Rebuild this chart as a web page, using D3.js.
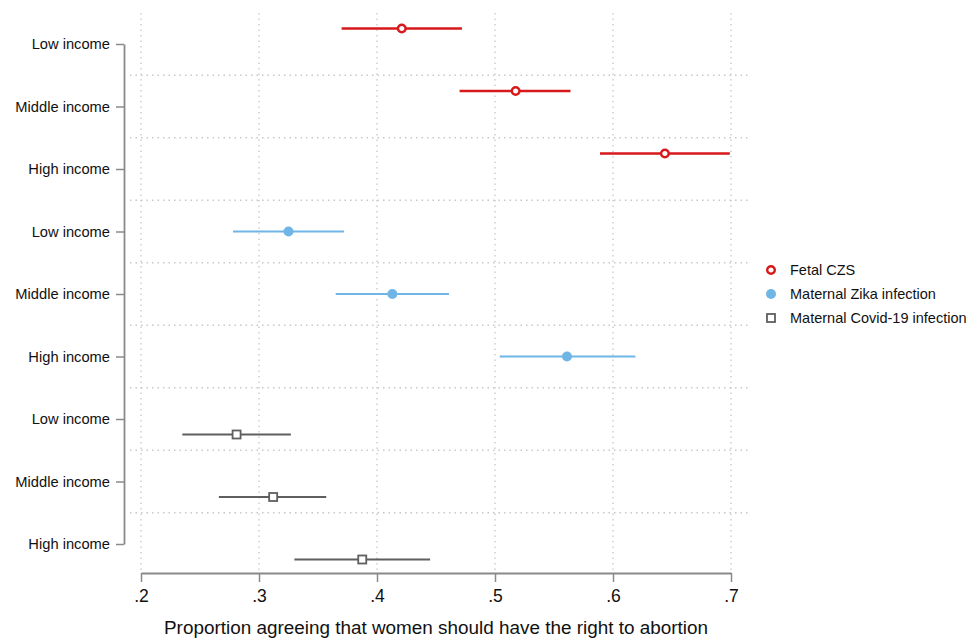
<!DOCTYPE html>
<html>
<head>
<meta charset="utf-8">
<script src="https://cdn.jsdelivr.net/npm/d3@7"></script>
<style>
  body { margin: 0; background: #fff; }
  svg { display: block; font-family: "Liberation Sans", Arial, sans-serif; }
</style>
</head>
<body>
<script>

// income groups, repeated for each outcome
let categories = ["Low income", "Middle income", "High income"]

// series names (legend order)
let seriesNames = ["Fetal CZS", "Maternal Zika infection", "Maternal Covid-19 infection"]

// point estimates and 95% CI per series, in category order
let czsEst = [0.421, 0.5175, 0.644]
let czsLow = [0.370, 0.470, 0.589]
let czsHigh = [0.472, 0.564, 0.699]

let zikaEst = [0.325, 0.413, 0.561]
let zikaLow = [0.278, 0.365, 0.504]
let zikaHigh = [0.372, 0.461, 0.619]

let covidEst = [0.281, 0.312, 0.3875]
let covidLow = [0.235, 0.266, 0.330]
let covidHigh = [0.327, 0.357, 0.445]

let xTicks = [0.2, 0.3, 0.4, 0.5, 0.6, 0.7]

let width = 979
let height = 638

let series = [
    { name: seriesNames[0], est: czsEst, lo: czsLow, hi: czsHigh, color: "#d7191c", marker: "ocircle", offset: -15.5, lw: 2.6 },
    { name: seriesNames[1], est: zikaEst, lo: zikaLow, hi: zikaHigh, color: "#6fb5e6", marker: "circle", offset: 0, lw: 2.2 },
    { name: seriesNames[2], est: covidEst, lo: covidLow, hi: covidHigh, color: "#5f5f5f", marker: "square", offset: 15.5, lw: 2 }
]

// rows: one per series x category, all with a tick label
let rows = []
series.forEach((s, si) => {
    categories.forEach((c, ci) => {
        rows.push({ label: c, idx: si * categories.length + ci })
    })
})

let xScale = d3.scaleLinear()
    .domain([0.2, 0.7])
    .range([141, 731])

let yScale = d3.scaleLinear()
    .domain([0, rows.length - 1])
    .range([44, 544])

let svg = d3.select("body")
    .append("svg")
    .attr("width", width)
    .attr("height", height)

// vertical grid
svg.append("g")
    .selectAll("line")
    .data(xTicks)
    .enter()
    .append("line")
    .attr("x1", d => xScale(d))
    .attr("x2", d => xScale(d))
    .attr("y1", 13)
    .attr("y2", 573)
    .attr("stroke", "#c8c8c8")
    .attr("stroke-width", 1.3)
    .attr("stroke-dasharray", "1.5,4")

// horizontal grid between rows
svg.append("g")
    .selectAll("line")
    .data(d3.range(rows.length - 1))
    .enter()
    .append("line")
    .attr("x1", 130)
    .attr("x2", 750)
    .attr("y1", d => yScale(d + 0.5))
    .attr("y2", d => yScale(d + 0.5))
    .attr("stroke", "#c8c8c8")
    .attr("stroke-width", 1.3)
    .attr("stroke-dasharray", "1.5,4")

// y axis
let yAxis = d3.axisLeft(yScale)
    .tickValues(rows.map(r => r.idx))
    .tickFormat(i => rows[i].label)
    .tickSize(8)
    .tickSizeOuter(0)
    .tickPadding(6)

let yG = svg.append("g")
    .attr("id", "y-axis")
    .attr("transform", "translate(124,0)")
    .call(yAxis)
yG.select(".domain").attr("stroke", "#8a8a8a").attr("stroke-width", 1.8)
yG.selectAll(".tick line").attr("stroke", "#8a8a8a").attr("stroke-width", 1.5)
yG.selectAll(".tick text")
    .attr("fill", "#111")
    .style("font-size", "14.7px")
    .style("font-family", "'Liberation Sans', Arial, sans-serif")

// x axis
let xAxis = d3.axisBottom(xScale)
    .tickValues(xTicks)
    .tickFormat(d => d3.format(".1f")(d).replace(/^0/, ""))
    .tickSize(9)
    .tickSizeOuter(0)
    .tickPadding(8)

let xG = svg.append("g")
    .attr("id", "x-axis")
    .attr("transform", "translate(0,573)")
    .call(xAxis)
xG.select(".domain").attr("stroke", "#8a8a8a").attr("stroke-width", 1.8)
xG.selectAll(".tick line").attr("stroke", "#8a8a8a").attr("stroke-width", 1.5)
xG.selectAll(".tick text")
    .attr("fill", "#111")
    .style("font-size", "17.5px")
    .style("font-family", "'Liberation Sans', Arial, sans-serif")

// x label
svg.append("text")
    .attr("x", (xScale(0.2) + xScale(0.7)) / 2)
    .attr("y", 634)
    .attr("text-anchor", "middle")
    .style("font-size", "18.9px")
    .attr("fill", "#111")
    .text("Proportion agreeing that women should have the right to abortion")

function drawMarker(g, type, color) {
    if (type === "ocircle") {
        g.append("circle").attr("r", 3.8).attr("fill", "#fff")
            .attr("stroke", color).attr("stroke-width", 2.4)
    } else if (type === "circle") {
        g.append("circle").attr("r", 5).attr("fill", color)
    } else {
        g.append("rect").attr("x", -4).attr("y", -4).attr("width", 8).attr("height", 8)
            .attr("fill", "#fff").attr("stroke", color).attr("stroke-width", 1.8)
    }
}

// CIs and points
series.forEach((s, si) => {
    let g = svg.append("g")
    categories.forEach((c, ci) => {
        let y = yScale(si * categories.length + ci) + s.offset
        g.append("line")
            .attr("x1", xScale(s.lo[ci]))
            .attr("x2", xScale(s.hi[ci]))
            .attr("y1", y)
            .attr("y2", y)
            .attr("stroke", s.color)
            .attr("stroke-width", s.lw)
        let m = g.append("g").attr("transform", "translate(" + xScale(s.est[ci]) + "," + y + ")")
        drawMarker(m, s.marker, s.color)
    })
})

// legend
let legend = svg.append("g").attr("transform", "translate(771,270)")
series.forEach((s, i) => {
    let item = legend.append("g").attr("transform", "translate(0," + (i * 24) + ")")
    drawMarker(item, s.marker, s.color)
    item.append("text")
        .attr("x", 19)
        .attr("y", 5)
        .style("font-size", "14.5px")
        .attr("fill", "#111")
        .text(s.name)
})

</script>
</body>
</html>
